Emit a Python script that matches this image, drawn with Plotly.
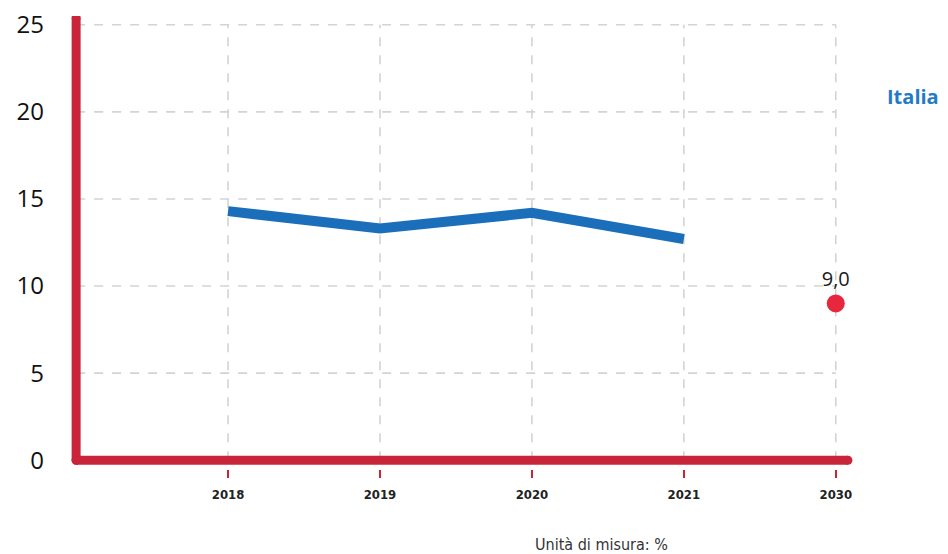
import plotly.graph_objects as go

categories = ["2018", "2019", "2020", "2021", "2030"]
italia_values = [14.3, 13.3, 14.2, 12.7]
target_value = 9.0
y_ticks = [0, 5, 10, 15, 20, 25]

RED_AXIS = "#c8253a"
BLUE = "#1b6fba"
DOT = "#e8273f"
GRID = "#d3d3d3"

xi = list(range(len(categories)))

fig = go.Figure()

# dashed gridlines
shapes = []
for yv in y_ticks[1:]:
    shapes.append(dict(type="line", xref="x", yref="y", x0=-1, x1=xi[-1], y0=yv, y1=yv,
                       line=dict(color=GRID, width=1.6, dash="dash"), layer="below"))
for xv in xi:
    shapes.append(dict(type="line", xref="x", yref="y", x0=xv, x1=xv, y0=0, y1=y_ticks[-1],
                       line=dict(color=GRID, width=1.6, dash="dash"), layer="below"))

# axis lines (thick red with round ends)
fig.add_trace(go.Scatter(x=[-1, -1], y=[0, 25.4], mode="lines+markers",
                         line=dict(color=RED_AXIS, width=9),
                         marker=dict(color=RED_AXIS, size=9), hoverinfo="skip", showlegend=False))
fig.add_trace(go.Scatter(x=[-1, 4.08], y=[0, 0], mode="lines+markers",
                         line=dict(color=RED_AXIS, width=9),
                         marker=dict(color=RED_AXIS, size=9), hoverinfo="skip", showlegend=False))

# Italia series
fig.add_trace(go.Scatter(x=xi[:len(italia_values)], y=italia_values, mode="lines",
                         line=dict(color=BLUE, width=10), name="Italia", showlegend=False))

# 2030 target
fig.add_trace(go.Scatter(x=[xi[-1]], y=[target_value], mode="markers+text",
                         marker=dict(color=DOT, size=18),
                         text=[f"{target_value:.1f}".replace(".", ",")],
                         textposition="top center",
                         textfont=dict(family="Open Sans, sans-serif", size=20, color="#1a1a1a"),
                         showlegend=False, cliponaxis=False))

fig.update_layout(
    width=948, height=554,
    margin=dict(l=59, r=102, t=8, b=93),
    paper_bgcolor="white", plot_bgcolor="white",
    shapes=shapes,
    xaxis=dict(range=[-1.06, 4.12], tickvals=xi, ticktext=categories,
               showgrid=False, zeroline=False, showline=False, automargin=False,
               ticks="outside", ticklen=8, tickwidth=2, tickcolor=RED_AXIS,
               tickfont=dict(family="Liberation Sans Narrow, DejaVu Sans Condensed, sans-serif",
                             size=13, color="#222", weight="bold"),
               ticklabelstandoff=5, ticklabeloverflow="allow"),
    yaxis=dict(range=[-0.5, 25.5], tickvals=y_ticks, ticktext=[str(v) for v in y_ticks],
               showgrid=False, zeroline=False, showline=False, automargin=False,
               tickfont=dict(family="Open Sans, sans-serif", size=24, color="#111"),
               ticklabelstandoff=22, ticklabeloverflow="allow"),
    annotations=[
        dict(text="<b>Italia</b>", xref="paper", yref="paper", x=1.039, y=0.823,
             xanchor="left", yanchor="middle", showarrow=False,
             font=dict(family="Open Sans, sans-serif", size=20, color="#1f7cc4")),
        dict(text="Unità di misura: %", xref="paper", yref="paper", x=0.592, y=-0.166,
             xanchor="left", yanchor="middle", showarrow=False,
             font=dict(family="Liberation Sans Narrow, DejaVu Sans Condensed, sans-serif",
                       size=16, color="#333")),
    ],
)

fig.write_html("out.html")
